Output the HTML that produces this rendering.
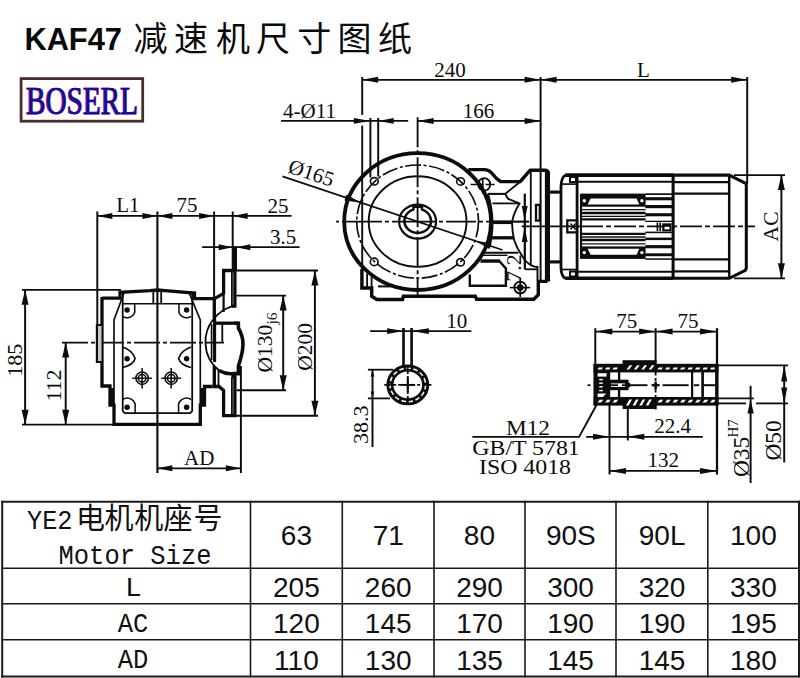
<!DOCTYPE html>
<html><head><meta charset="utf-8"><title>KAF47</title>
<style>
html,body{margin:0;padding:0;background:#fff;}
body{width:800px;height:678px;overflow:hidden;font-family:"Liberation Serif",serif;}
svg{display:block}
text{font-family:"Liberation Serif",serif;fill:#000}
text.d{font-family:"Liberation Serif",serif;fill:#0c0c0c}
text.t{font-family:"Liberation Sans",sans-serif;fill:#111}
text.m{font-family:"Liberation Mono",monospace;fill:#111}
text.c{font-family:"Liberation Sans","Noto Sans CJK SC",sans-serif;fill:#111}
text.h{font-family:"Liberation Sans","Noto Sans CJK SC",sans-serif;fill:#0a0a0a}
</style></head><body>
<svg width="800" height="678" viewBox="0 0 800 678">
<title>KAF47 减速机尺寸图纸</title>
<desc>BOSERL. Dimensions: 240, L, 166, 4-Ø11, Ø165, AC, 7.2, L1, 75, 25, 3.5, 185, 112, AD, Ø130 j6, Ø200, 10, 38.3, 75, 75, M12, GB/T 5781, ISO 4018, 22.4, 132, Ø35 H7, Ø50. Table: YE2电机机座号 Motor Size 63 71 80 90S 90L 100; L 205 260 290 300 320 330; AC 120 145 170 190 190 195; AD 110 130 135 145 145 180.</desc>
<rect width="800" height="678" fill="#fff"/>
<text class="h" x="24.4" y="50" font-size="30.8" font-weight="bold">KAF47</text>
<text class="h" x="133.6 174 216 256 297.3 337.5 378" y="50.5" font-size="34">减速机尺寸图纸</text>
<rect x="21.1" y="78.6" width="121.6" height="42.6" fill="#fff" stroke="#4c2c2d" stroke-width="2.8"/>
<text x="25.6" y="113.5" font-size="39" textLength="112" lengthAdjust="spacingAndGlyphs" style="font-family:'Liberation Serif',serif;fill:#c02060;stroke:#c02060;stroke-width:0.7">BOSERL</text>
<text x="26.2" y="113.5" font-size="39" textLength="112" lengthAdjust="spacingAndGlyphs" style="font-family:'Liberation Serif',serif;fill:#170c9a;stroke:#170c9a;stroke-width:0.75">BOSERL</text>
<line x1="2.2" y1="500.8" x2="2.2" y2="677.6" stroke="#1a1a1a" stroke-width="2.0"/>
<line x1="250.5" y1="500.8" x2="250.5" y2="677.6" stroke="#1a1a1a" stroke-width="1.6"/>
<line x1="342.3" y1="500.8" x2="342.3" y2="677.6" stroke="#1a1a1a" stroke-width="1.6"/>
<line x1="434" y1="500.8" x2="434" y2="677.6" stroke="#1a1a1a" stroke-width="1.6"/>
<line x1="525" y1="500.8" x2="525" y2="677.6" stroke="#1a1a1a" stroke-width="1.6"/>
<line x1="616" y1="500.8" x2="616" y2="677.6" stroke="#1a1a1a" stroke-width="1.6"/>
<line x1="707.8" y1="500.8" x2="707.8" y2="677.6" stroke="#1a1a1a" stroke-width="1.6"/>
<line x1="799" y1="500.8" x2="799" y2="677.6" stroke="#1a1a1a" stroke-width="2.0"/>
<line x1="1.2000000000000002" y1="501.8" x2="800" y2="501.8" stroke="#1a1a1a" stroke-width="2.0"/>
<line x1="1.2000000000000002" y1="568.2" x2="800" y2="568.2" stroke="#1a1a1a" stroke-width="1.6"/>
<line x1="1.2000000000000002" y1="603.8" x2="800" y2="603.8" stroke="#1a1a1a" stroke-width="1.6"/>
<line x1="1.2000000000000002" y1="639.8" x2="800" y2="639.8" stroke="#1a1a1a" stroke-width="1.6"/>
<line x1="1.2000000000000002" y1="676.6" x2="800" y2="676.6" stroke="#1a1a1a" stroke-width="2.0"/>
<text class="t" x="296.4" y="545.2" font-size="28" text-anchor="middle">63</text>
<text class="t" x="388.3" y="545.2" font-size="28" text-anchor="middle">71</text>
<text class="t" x="479.4" y="545.2" font-size="28" text-anchor="middle">80</text>
<text class="t" x="570.8" y="545.2" font-size="28" text-anchor="middle">90S</text>
<text class="t" x="662.1" y="545.2" font-size="28" text-anchor="middle">90L</text>
<text class="t" x="753.4" y="545.2" font-size="28" text-anchor="middle">100</text>
<text class="m" x="133.5" y="595.57" font-size="28" text-anchor="middle">L</text>
<text class="t" x="296.4" y="597" font-size="28" text-anchor="middle">205</text>
<text class="t" x="388.2" y="597" font-size="28" text-anchor="middle">260</text>
<text class="t" x="479.5" y="597" font-size="28" text-anchor="middle">290</text>
<text class="t" x="570.5" y="597" font-size="28" text-anchor="middle">300</text>
<text class="t" x="662" y="597" font-size="28" text-anchor="middle">320</text>
<text class="t" x="753.4" y="597" font-size="28" text-anchor="middle">330</text>
<text class="m" x="117.8" y="631.57" font-size="28" textLength="30.6" lengthAdjust="spacingAndGlyphs">AC</text>
<text class="t" x="296.4" y="633" font-size="28" text-anchor="middle">120</text>
<text class="t" x="388.2" y="633" font-size="28" text-anchor="middle">145</text>
<text class="t" x="479.5" y="633" font-size="28" text-anchor="middle">170</text>
<text class="t" x="570.5" y="633" font-size="28" text-anchor="middle">190</text>
<text class="t" x="662" y="633" font-size="28" text-anchor="middle">190</text>
<text class="t" x="753.4" y="633" font-size="28" text-anchor="middle">195</text>
<text class="m" x="117.8" y="668.07" font-size="28" textLength="30.6" lengthAdjust="spacingAndGlyphs">AD</text>
<text class="t" x="296.4" y="669.5" font-size="28" text-anchor="middle">110</text>
<text class="t" x="388.2" y="669.5" font-size="28" text-anchor="middle">130</text>
<text class="t" x="479.5" y="669.5" font-size="28" text-anchor="middle">135</text>
<text class="t" x="570.5" y="669.5" font-size="28" text-anchor="middle">145</text>
<text class="t" x="662" y="669.5" font-size="28" text-anchor="middle">145</text>
<text class="t" x="753.4" y="669.5" font-size="28" text-anchor="middle">180</text>
<text class="m" x="27" y="528.57" font-size="28" textLength="45.5" lengthAdjust="spacingAndGlyphs">YE2</text>
<text class="c" x="76 104.5 134.3 163.5 193.5" y="529" font-size="29">电机机座号</text>
<text class="m" x="58.5" y="563.87" font-size="28" textLength="153" lengthAdjust="spacingAndGlyphs">Motor Size</text>
<line x1="97.3" y1="211.5" x2="97.3" y2="326" stroke="#0c0c0c" stroke-width="1.96" stroke-linecap="butt"/>
<line x1="157.4" y1="211.5" x2="157.4" y2="473" stroke="#0c0c0c" stroke-width="2.1" stroke-linecap="butt"/>
<line x1="214.1" y1="211.5" x2="214.1" y2="345" stroke="#0c0c0c" stroke-width="1.96" stroke-linecap="butt"/>
<line x1="232.7" y1="211.5" x2="232.7" y2="271" stroke="#0c0c0c" stroke-width="1.96" stroke-linecap="butt"/>
<line x1="97.3" y1="215.9" x2="291.6" y2="215.9" stroke="#0c0c0c" stroke-width="1.78" stroke-linecap="butt"/>
<path d="M97.3 215.9 L112.3 212.9 L112.3 218.9 Z" fill="#0c0c0c"/>
<path d="M157.4 215.9 L142.4 218.9 L142.4 212.9 Z" fill="#0c0c0c"/>
<path d="M157.4 215.9 L172.4 212.9 L172.4 218.9 Z" fill="#0c0c0c"/>
<path d="M214.1 215.9 L199.1 218.9 L199.1 212.9 Z" fill="#0c0c0c"/>
<path d="M232.7 215.9 L247.7 212.9 L247.7 218.9 Z" fill="#0c0c0c"/>
<text class="d" x="116.2" y="212.3" font-size="21">L1</text>
<text class="d" x="176.5" y="212.4" font-size="21">75</text>
<text class="d" x="267.5" y="212.6" font-size="21">25</text>
<line x1="202.1" y1="247.2" x2="299.6" y2="247.2" stroke="#0c0c0c" stroke-width="1.78" stroke-linecap="butt"/>
<line x1="234.6" y1="246.4" x2="234.6" y2="271" stroke="#0c0c0c" stroke-width="4.75" stroke-linecap="butt"/>
<path d="M232.7 247.2 L218.7 250.2 L218.7 244.2 Z" fill="#0c0c0c"/>
<path d="M236.3 247.2 L250.3 244.2 L250.3 250.2 Z" fill="#0c0c0c"/>
<text class="d" x="270" y="243.9" font-size="21">3.5</text>
<line x1="22" y1="289.8" x2="121" y2="289.8" stroke="#0c0c0c" stroke-width="1.78" stroke-linecap="butt"/>
<line x1="22" y1="424.7" x2="115" y2="424.7" stroke="#0c0c0c" stroke-width="1.78" stroke-linecap="butt"/>
<line x1="25.1" y1="289.8" x2="25.1" y2="424.7" stroke="#0c0c0c" stroke-width="1.96" stroke-linecap="butt"/>
<path d="M25.1 289.8 L28.61 304.8 L21.59 304.8 Z" fill="#0c0c0c"/>
<path d="M25.1 424.7 L21.59 409.7 L28.61 409.7 Z" fill="#0c0c0c"/>
<text class="d" x="6" y="360.3" font-size="22" transform="rotate(-90 22.4 360.3)">185</text>
<line x1="65.7" y1="342.6" x2="65.7" y2="424.7" stroke="#0c0c0c" stroke-width="1.96" stroke-linecap="butt"/>
<path d="M65.7 342.6 L69.21 357.6 L62.19 357.6 Z" fill="#0c0c0c"/>
<path d="M65.7 424.7 L62.19 409.7 L69.21 409.7 Z" fill="#0c0c0c"/>
<text class="d" x="44.8" y="385.2" font-size="22" transform="rotate(-90 61.2 385.2)">112</text>
<line x1="240.9" y1="366" x2="240.9" y2="473" stroke="#0c0c0c" stroke-width="1.96" stroke-linecap="butt"/>
<line x1="157.4" y1="468.3" x2="240.9" y2="468.3" stroke="#0c0c0c" stroke-width="1.78" stroke-linecap="butt"/>
<path d="M157.4 468.3 L172.4 465.3 L172.4 471.3 Z" fill="#0c0c0c"/>
<path d="M240.9 468.3 L225.9 471.3 L225.9 465.3 Z" fill="#0c0c0c"/>
<text class="d" x="184" y="465.3" font-size="21">AD</text>
<line x1="236" y1="270.5" x2="318" y2="270.5" stroke="#0c0c0c" stroke-width="1.91" stroke-linecap="butt"/>
<line x1="224" y1="415.7" x2="318" y2="415.7" stroke="#0c0c0c" stroke-width="1.91" stroke-linecap="butt"/>
<line x1="314.9" y1="270.5" x2="314.9" y2="415.7" stroke="#0c0c0c" stroke-width="1.96" stroke-linecap="butt"/>
<path d="M314.9 270.5 L318.41 285.5 L311.39 285.5 Z" fill="#0c0c0c"/>
<path d="M314.9 415.7 L311.39 400.7 L318.41 400.7 Z" fill="#0c0c0c"/>
<text class="d" x="288.5" y="347.3" font-size="21.5" transform="rotate(-90 312 347.3)">Ø200</text>
<line x1="236.4" y1="295.6" x2="286" y2="295.6" stroke="#0c0c0c" stroke-width="1.91" stroke-linecap="butt"/>
<line x1="236.4" y1="390.2" x2="286" y2="390.2" stroke="#0c0c0c" stroke-width="1.91" stroke-linecap="butt"/>
<line x1="283.2" y1="295.6" x2="283.2" y2="390.2" stroke="#0c0c0c" stroke-width="1.96" stroke-linecap="butt"/>
<path d="M283.2 295.6 L286.71 310.6 L279.69 310.6 Z" fill="#0c0c0c"/>
<path d="M283.2 390.2 L279.69 375.2 L286.71 375.2 Z" fill="#0c0c0c"/>
<text class="d" x="248.3" y="349" font-size="21.5" transform="rotate(-90 271.8 349)">Ø130</text>
<text class="d" x="271.7" y="319" font-size="15.5" transform="rotate(-90 277.3 319)">j6</text>
<line x1="62" y1="342.6" x2="224" y2="342.6" stroke="#0c0c0c" stroke-width="1.65" stroke-linecap="butt" stroke-dasharray="26 3 4 3"/>
<path d="M102 298.2 L120 298.2 L120 292.3 L150 290.6 L157.4 290 L165 290.6 L194.5 293 L194.5 298.6 L214.6 298.6" fill="none" stroke="#0c0c0c" stroke-width="3.3" stroke-linejoin="miter" stroke-linecap="butt"/>
<path d="M102 297 L102 386 L110 386 L110 405.2 L114 405.2 L114 424.4 L200.3 424.4 L200.3 405.2 L204.5 405.2 L204.5 386.5 L212.5 386.5" fill="none" stroke="#0c0c0c" stroke-width="3.3" stroke-linejoin="miter" stroke-linecap="butt"/>
<line x1="111.8" y1="388" x2="111.8" y2="404" stroke="#0c0c0c" stroke-width="4.47" stroke-linecap="butt"/>
<line x1="202.6" y1="388" x2="202.6" y2="404" stroke="#0c0c0c" stroke-width="4.47" stroke-linecap="butt"/>
<rect x="97" y="325" width="4.5" height="37" fill="#c8c8c8"/>
<path d="M101.8 325 L96.9 325 L96.9 362 L101.8 362" fill="none" stroke="#0c0c0c" stroke-width="2.16" stroke-linejoin="miter" stroke-linecap="butt"/>
<path d="M124 293 L114 320 L114 406" fill="none" stroke="#0c0c0c" stroke-width="1.65" stroke-linejoin="miter" stroke-linecap="butt"/>
<path d="M189.2 293 L200.3 320 L200.3 406" fill="none" stroke="#0c0c0c" stroke-width="1.65" stroke-linejoin="miter" stroke-linecap="butt"/>
<path d="M122.7 293 L122.7 411 L124.7 413.2 L190.2 413.2 L192.2 411 L192.2 293" fill="none" stroke="#0c0c0c" stroke-width="1.78" stroke-linejoin="miter" stroke-linecap="butt"/>
<line x1="122.7" y1="303.7" x2="192.2" y2="303.7" stroke="#0c0c0c" stroke-width="1.65" stroke-linecap="butt"/>
<line x1="153.3" y1="291" x2="153.3" y2="303.5" stroke="#0c0c0c" stroke-width="1.82" stroke-linecap="butt"/>
<line x1="161.2" y1="291" x2="161.2" y2="303.5" stroke="#0c0c0c" stroke-width="1.82" stroke-linecap="butt"/>
<path d="M122.69999999999999 316.3 A7.6 7 0 0 0 134.7 309.5 L134.7 303.5" fill="none" stroke="#0c0c0c" stroke-width="1.52" stroke-linejoin="miter" stroke-linecap="butt"/>
<circle cx="127.1" cy="310.1" r="2.73" fill="#0c0c0c"/>
<path d="M122.69999999999999 347 Q132.6 350.5 135.1 358.4 Q133.1 365 122.69999999999999 367.5" fill="none" stroke="#0c0c0c" stroke-width="1.65" stroke-linejoin="miter" stroke-linecap="butt"/>
<circle cx="127.1" cy="358.8" r="2.73" fill="#0c0c0c"/>
<path d="M122.69999999999999 399.5 A8 8 0 0 1 135.1 407.5 L135.1 413" fill="none" stroke="#0c0c0c" stroke-width="1.52" stroke-linejoin="miter" stroke-linecap="butt"/>
<circle cx="127.1" cy="407.2" r="2.73" fill="#0c0c0c"/>
<path d="M191.0 316.3 A7.6 7 0 0 1 179.0 309.5 L179.0 303.5" fill="none" stroke="#0c0c0c" stroke-width="1.52" stroke-linejoin="miter" stroke-linecap="butt"/>
<circle cx="186.6" cy="310.1" r="2.73" fill="#0c0c0c"/>
<path d="M191.0 347 Q181.1 350.5 178.6 358.4 Q180.6 365 191.0 367.5" fill="none" stroke="#0c0c0c" stroke-width="1.65" stroke-linejoin="miter" stroke-linecap="butt"/>
<circle cx="186.6" cy="358.8" r="2.73" fill="#0c0c0c"/>
<path d="M191.0 399.5 A8 8 0 0 0 178.6 407.5 L178.6 413" fill="none" stroke="#0c0c0c" stroke-width="1.52" stroke-linejoin="miter" stroke-linecap="butt"/>
<circle cx="186.6" cy="407.2" r="2.73" fill="#0c0c0c"/>
<circle cx="142.1" cy="378.2" r="6.2" fill="none" stroke="#0c0c0c" stroke-width="1.52"/>
<circle cx="142.1" cy="378.2" r="3.8" fill="none" stroke="#0c0c0c" stroke-width="1.52"/>
<line x1="132.1" y1="378.2" x2="152.1" y2="378.2" stroke="#0c0c0c" stroke-width="1.4" stroke-linecap="butt"/>
<line x1="142.1" y1="368" x2="142.1" y2="388.5" stroke="#0c0c0c" stroke-width="1.54" stroke-linecap="butt"/>
<circle cx="171.2" cy="378.2" r="6.2" fill="none" stroke="#0c0c0c" stroke-width="1.52"/>
<circle cx="171.2" cy="378.2" r="3.8" fill="none" stroke="#0c0c0c" stroke-width="1.52"/>
<line x1="161.2" y1="378.2" x2="181.2" y2="378.2" stroke="#0c0c0c" stroke-width="1.4" stroke-linecap="butt"/>
<line x1="171.2" y1="368" x2="171.2" y2="388.5" stroke="#0c0c0c" stroke-width="1.54" stroke-linecap="butt"/>
<path d="M214.6 298.6 L223.6 293.3 L223.6 270.5 L234.9 270.5 L234.9 306.1 L231.9 306.1" fill="none" stroke="#0c0c0c" stroke-width="3.3" stroke-linejoin="miter" stroke-linecap="butt"/>
<line x1="231.9" y1="272" x2="231.9" y2="306" stroke="#0c0c0c" stroke-width="1.82" stroke-linecap="butt"/>
<line x1="223.6" y1="293" x2="223.6" y2="312" stroke="#0c0c0c" stroke-width="2.24" stroke-linecap="butt"/>
<line x1="214.3" y1="298" x2="214.3" y2="318" stroke="#0c0c0c" stroke-width="3.35" stroke-linecap="butt"/>
<path d="M212.5 386.5 L219 386.5 L223.6 390.5 L223.6 415.7 L234.9 415.7 L234.9 376.6 L231.5 376.6" fill="none" stroke="#0c0c0c" stroke-width="3.3" stroke-linejoin="miter" stroke-linecap="butt"/>
<line x1="231.9" y1="377" x2="231.9" y2="414.5" stroke="#0c0c0c" stroke-width="1.82" stroke-linecap="butt"/>
<line x1="218.5" y1="370" x2="218.5" y2="386" stroke="#0c0c0c" stroke-width="1.82" stroke-linecap="butt"/>
<line x1="214.3" y1="366" x2="214.3" y2="386.5" stroke="#0c0c0c" stroke-width="3.35" stroke-linecap="butt"/>
<path d="M234.3 305.6 A39.5 37.5 0 0 0 205.5 343 A39.5 37.5 0 0 0 219 370.5" fill="none" stroke="#0c0c0c" stroke-width="1.78" stroke-linejoin="miter" stroke-linecap="butt"/>
<path d="M219 370.5 Q226 374.5 233 373.6" fill="none" stroke="#0c0c0c" stroke-width="3.3" stroke-linejoin="miter" stroke-linecap="butt"/>
<path d="M214.6 323.2 L238.4 323.2" fill="none" stroke="#0c0c0c" stroke-width="3.3" stroke-linejoin="miter" stroke-linecap="butt"/>
<path d="M234 323.2 L238.4 323.2 L238.4 328 Q243 336 243 343.9 Q243 352 238.4 366 L238.4 373.6 L232.6 373.6" fill="none" stroke="#0c0c0c" stroke-width="3.56" stroke-linejoin="miter" stroke-linecap="butt"/>
<line x1="211.6" y1="324" x2="211.6" y2="360" stroke="#0c0c0c" stroke-width="1.68" stroke-linecap="butt"/>
<line x1="222.3" y1="324" x2="222.3" y2="343" stroke="#0c0c0c" stroke-width="1.82" stroke-linecap="butt"/>
<line x1="214.6" y1="318" x2="214.6" y2="362" stroke="#0c0c0c" stroke-width="3.07" stroke-linecap="butt"/>
<line x1="362.2" y1="77" x2="362.2" y2="114.9" stroke="#0c0c0c" stroke-width="1.96" stroke-linecap="butt"/>
<line x1="362.2" y1="125.6" x2="362.2" y2="270" stroke="#0c0c0c" stroke-width="1.89" stroke-linecap="butt"/>
<line x1="540.6" y1="77" x2="540.6" y2="281" stroke="#0c0c0c" stroke-width="1.96" stroke-linecap="butt"/>
<line x1="747.2" y1="77" x2="747.2" y2="183.5" stroke="#0c0c0c" stroke-width="1.96" stroke-linecap="butt"/>
<line x1="362.2" y1="79.8" x2="747.2" y2="79.8" stroke="#0c0c0c" stroke-width="1.78" stroke-linecap="butt"/>
<path d="M362.2 79.8 L378.2 76.8 L378.2 82.8 Z" fill="#0c0c0c"/>
<path d="M540.6 79.8 L524.6 82.8 L524.6 76.8 Z" fill="#0c0c0c"/>
<path d="M540.6 79.8 L556.6 76.8 L556.6 82.8 Z" fill="#0c0c0c"/>
<path d="M747.2 79.8 L731.2 82.8 L731.2 76.8 Z" fill="#0c0c0c"/>
<text class="d" x="434.3" y="77.3" font-size="21">240</text>
<text class="d" x="637" y="77.3" font-size="21">L</text>
<line x1="417.6" y1="120.9" x2="540.6" y2="120.9" stroke="#0c0c0c" stroke-width="1.78" stroke-linecap="butt"/>
<path d="M417.6 120.9 L433.6 117.9 L433.6 123.9 Z" fill="#0c0c0c"/>
<path d="M540.6 120.9 L524.6 123.9 L524.6 117.9 Z" fill="#0c0c0c"/>
<text class="d" x="462.8" y="117.6" font-size="21">166</text>
<line x1="281" y1="120.9" x2="408.2" y2="120.9" stroke="#0c0c0c" stroke-width="1.78" stroke-linecap="butt"/>
<path d="M370.4 120.9 L353.9 123.8 L353.9 118 Z" fill="#0c0c0c"/>
<path d="M378.2 120.9 L393.7 118 L393.7 123.8 Z" fill="#0c0c0c"/>
<line x1="370.4" y1="118" x2="370.4" y2="177.5" stroke="#0c0c0c" stroke-width="1.96" stroke-linecap="butt"/>
<line x1="378.2" y1="118" x2="378.2" y2="176.5" stroke="#0c0c0c" stroke-width="1.96" stroke-linecap="butt"/>
<text class="d" x="283" y="117.9" font-size="21">4-Ø11</text>
<line x1="734" y1="175.1" x2="785" y2="175.1" stroke="#0c0c0c" stroke-width="1.78" stroke-linecap="butt"/>
<line x1="734" y1="278.3" x2="785" y2="278.3" stroke="#0c0c0c" stroke-width="1.78" stroke-linecap="butt"/>
<line x1="781.4" y1="175.1" x2="781.4" y2="278.3" stroke="#0c0c0c" stroke-width="1.96" stroke-linecap="butt"/>
<path d="M781.4 175.1 L784.91 190.1 L777.89 190.1 Z" fill="#0c0c0c"/>
<path d="M781.4 278.3 L777.89 263.3 L784.91 263.3 Z" fill="#0c0c0c"/>
<text class="d" x="763" y="226.4" font-size="21.5" transform="rotate(-90 778 226.4)">AC</text>
<line x1="417.6" y1="117.3" x2="417.6" y2="296.5" stroke="#0c0c0c" stroke-width="1.82" stroke-linecap="butt" stroke-dasharray="30 3 4 3"/>
<line x1="336" y1="221.6" x2="529" y2="221.6" stroke="#0c0c0c" stroke-width="1.65" stroke-linecap="butt" stroke-dasharray="3 3 40 3 4 3 44 3 4 3 30 3 4 3"/>
<line x1="282.5" y1="176.41" x2="502.5" y2="250" stroke="#0c0c0c" stroke-width="1.78" stroke-linecap="butt"/>
<path d="M360.6 202.53 L344.41 200.49 L346.44 194.42 Z" fill="#0c0c0c"/>
<path d="M475.4 240.93 L491.59 242.97 L489.56 249.04 Z" fill="#0c0c0c"/>
<text class="d" x="285.8" y="179.6" font-size="21" transform="rotate(18.49508832049307 309.3 179.6)">Ø165</text>
<ellipse cx="417.6" cy="221.6" rx="73.4" ry="68.4" fill="none" stroke="#0c0c0c" stroke-width="3.81"/>
<ellipse cx="417.6" cy="221.6" rx="60.9" ry="56.6" fill="none" stroke="#0c0c0c" stroke-width="1.65" stroke-dasharray="16 2.5 3 2.5"/>
<ellipse cx="417.6" cy="221.6" rx="48.9" ry="45.3" fill="none" stroke="#0c0c0c" stroke-width="1.91"/>
<ellipse cx="417.6" cy="221.6" rx="18.5" ry="17" fill="none" stroke="#0c0c0c" stroke-width="2.16"/>
<path d="M413.4 209.6 L413.4 206.8 L422 206.8 L422 209.6 A13.3 12 0 1 1 413.4 209.6 Z" fill="none" stroke="#0c0c0c" stroke-width="2.54" stroke-linejoin="round" stroke-linecap="butt"/>
<ellipse cx="374.3" cy="181.3" rx="3.9" ry="3.7" fill="none" stroke="#0c0c0c" stroke-width="1.65"/>
<ellipse cx="460.6" cy="181.4" rx="3.9" ry="3.7" fill="none" stroke="#0c0c0c" stroke-width="1.65"/>
<ellipse cx="374.2" cy="261.9" rx="3.9" ry="3.7" fill="none" stroke="#0c0c0c" stroke-width="1.65"/>
<ellipse cx="460.5" cy="262.3" rx="3.9" ry="3.7" fill="none" stroke="#0c0c0c" stroke-width="1.65"/>
<path d="M361.9 269 L361.9 288 L371.7 288 L371.7 296.2 L376.8 299.5 L402.6 299.5 L403.4 296.2 L475.3 296.2 L476.6 299.3 L533.8 299.3 L538.3 294.7 L538.3 281.4 L547.5 281.4" fill="none" stroke="#0c0c0c" stroke-width="3.43" stroke-linejoin="miter" stroke-linecap="butt"/>
<line x1="367.1" y1="273.6" x2="367.1" y2="287.5" stroke="#0c0c0c" stroke-width="1.82" stroke-linecap="butt"/>
<line x1="371.6" y1="277" x2="371.6" y2="288" stroke="#0c0c0c" stroke-width="1.82" stroke-linecap="butt"/>
<line x1="378" y1="286.4" x2="390" y2="286.4" stroke="#0c0c0c" stroke-width="2.03" stroke-linecap="butt"/>
<path d="M468.3 169.6 L485 169.6 Q489.5 170 493 174.5 Q496.5 179.5 500.7 181.6 L520.2 181.6 L530 170.3 L545.5 170.3 Q548.3 170.5 548.3 173.5 L548.3 281.4" fill="none" stroke="#0c0c0c" stroke-width="3.43" stroke-linejoin="round" stroke-linecap="butt"/>
<path d="M487.6 193.9 Q495.8 221.6 489 247" fill="none" stroke="#0c0c0c" stroke-width="2.79" stroke-linejoin="miter" stroke-linecap="butt"/>
<ellipse cx="484.2" cy="184.4" rx="6" ry="6.3" fill="none" stroke="#0c0c0c" stroke-width="1.91"/>
<line x1="470.6" y1="184.4" x2="494.7" y2="184.4" stroke="#0c0c0c" stroke-width="1.52" stroke-linecap="butt" stroke-dasharray="7 2 4 2 9"/>
<line x1="482.7" y1="178.5" x2="482.7" y2="193.5" stroke="#0c0c0c" stroke-width="1.68" stroke-linecap="butt"/>
<line x1="487.9" y1="193.9" x2="505.2" y2="193.9" stroke="#0c0c0c" stroke-width="2.03" stroke-linecap="butt"/>
<line x1="505.2" y1="193.9" x2="520.2" y2="181.8" stroke="#0c0c0c" stroke-width="1.91" stroke-linecap="butt"/>
<path d="M505.2 193.9 L508.2 198.9 L519.5 203.4 Q513.5 213 512 222.2 Q512.2 232 514.2 240.2 Q517.5 250.5 526.2 261.6 Q530 265.5 535.3 266.9 L537.5 266.9 L537.5 280" fill="none" stroke="#0c0c0c" stroke-width="1.91" stroke-linejoin="miter" stroke-linecap="butt"/>
<line x1="492.4" y1="203.4" x2="518.8" y2="203.4" stroke="#0c0c0c" stroke-width="1.78" stroke-linecap="butt"/>
<line x1="492" y1="222.3" x2="512" y2="222.3" stroke="#0c0c0c" stroke-width="3.56" stroke-linecap="butt"/>
<line x1="491.5" y1="237.8" x2="513.5" y2="237.8" stroke="#0c0c0c" stroke-width="3.3" stroke-linecap="butt"/>
<line x1="484" y1="252.8" x2="518.4" y2="252.8" stroke="#0c0c0c" stroke-width="1.91" stroke-linecap="butt"/>
<line x1="483" y1="255.3" x2="507.5" y2="255.3" stroke="#0c0c0c" stroke-width="1.4" stroke-linecap="butt"/>
<line x1="481" y1="260.3" x2="500" y2="260.3" stroke="#0c0c0c" stroke-width="1.91" stroke-linecap="butt"/>
<path d="M480.4 261.6 L499.9 261.6 L505.9 268.4 L505.9 285.7 L469.8 285.7 L469.8 274.6" fill="none" stroke="#0c0c0c" stroke-width="2.41" stroke-linejoin="miter" stroke-linecap="butt"/>
<circle cx="520.2" cy="287.6" r="5.9" fill="none" stroke="#0c0c0c" stroke-width="1.91"/>
<circle cx="520.2" cy="287.6" r="3.38" fill="#0c0c0c"/>
<line x1="509.7" y1="287.6" x2="530.2" y2="287.6" stroke="#0c0c0c" stroke-width="1.52" stroke-linecap="butt"/>
<line x1="520.2" y1="278" x2="520.2" y2="297.2" stroke="#0c0c0c" stroke-width="1.68" stroke-linecap="butt"/>
<line x1="524.8" y1="193.6" x2="524.8" y2="269.3" stroke="#0c0c0c" stroke-width="2.24" stroke-linecap="butt"/>
<line x1="524.8" y1="269.3" x2="537" y2="269.3" stroke="#0c0c0c" stroke-width="1.78" stroke-linecap="butt"/>
<path d="M524.7 221 L521.78 206 L527.62 206 Z" fill="#0c0c0c"/>
<path d="M524.7 226.9 L527.62 241.9 L521.78 241.9 Z" fill="#0c0c0c"/>
<line x1="512" y1="221.6" x2="529.2" y2="221.6" stroke="#0c0c0c" stroke-width="1.65" stroke-linecap="butt"/>
<text class="d" x="508.8" y="269.2" font-size="22" transform="rotate(-90 521.3 269.2)">7.2</text>
<line x1="530.8" y1="171" x2="530.8" y2="264.6" stroke="#0c0c0c" stroke-width="1.82" stroke-linecap="butt"/>
<line x1="547.4" y1="172" x2="547.4" y2="280" stroke="#0c0c0c" stroke-width="5.03" stroke-linecap="butt"/>
<path d="M536 204.9 L539.8 204.9 L539.8 220.7 L536 220.7 Z" fill="none" stroke="#0c0c0c" stroke-width="2.29" stroke-linejoin="miter" stroke-linecap="butt"/>
<line x1="521.7" y1="226.3" x2="581" y2="226.3" stroke="#0c0c0c" stroke-width="1.65" stroke-linecap="butt"/>
<line x1="581" y1="226.3" x2="755" y2="226.3" stroke="#0c0c0c" stroke-width="1.78" stroke-linecap="butt" stroke-dasharray="22 3 5 3"/>
<path d="M549 192.1 L561 192.1" fill="none" stroke="#0c0c0c" stroke-width="3.17" stroke-linejoin="miter" stroke-linecap="butt"/>
<path d="M549 261.9 L561 261.9" fill="none" stroke="#0c0c0c" stroke-width="3.17" stroke-linejoin="miter" stroke-linecap="butt"/>
<path d="M566 175.1 Q561.5 176 561 186.1 L561 268.3 Q561.5 277.5 566 278.3" fill="none" stroke="#0c0c0c" stroke-width="2.79" stroke-linejoin="miter" stroke-linecap="butt"/>
<line x1="577.1" y1="174" x2="577.1" y2="279.4" stroke="#0c0c0c" stroke-width="2.79" stroke-linecap="butt"/>
<line x1="561.5" y1="184.1" x2="577" y2="184.1" stroke="#0c0c0c" stroke-width="1.65" stroke-linecap="butt"/>
<line x1="561.5" y1="269.5" x2="577" y2="269.5" stroke="#0c0c0c" stroke-width="1.65" stroke-linecap="butt"/>
<path d="M570 177 L576 177 L576 182 L570 182 Z" fill="none" stroke="#0c0c0c" stroke-width="2.03" stroke-linejoin="miter" stroke-linecap="butt"/>
<path d="M570 271.6 L576 271.6 L576 276.6 L570 276.6 Z" fill="none" stroke="#0c0c0c" stroke-width="2.03" stroke-linejoin="miter" stroke-linecap="butt"/>
<path d="M567.3 220.3 L577 220.3 L577 232.3 L567.3 232.3 Z" fill="none" stroke="#0c0c0c" stroke-width="2.29" stroke-linejoin="miter" stroke-linecap="butt"/>
<path d="M570.5 223.5 L575.5 229.5 M575.5 223.5 L570.5 229.5" fill="none" stroke="#0c0c0c" stroke-width="1.52" stroke-linejoin="miter" stroke-linecap="butt"/>
<line x1="565.5" y1="175.1" x2="673" y2="175.1" stroke="#0c0c0c" stroke-width="3.56" stroke-linecap="butt"/>
<line x1="565.5" y1="278.3" x2="673" y2="278.3" stroke="#0c0c0c" stroke-width="3.56" stroke-linecap="butt"/>
<line x1="577" y1="181.7" x2="673" y2="181.7" stroke="#0c0c0c" stroke-width="1.91" stroke-linecap="butt"/>
<line x1="577" y1="271.7" x2="673" y2="271.7" stroke="#0c0c0c" stroke-width="1.91" stroke-linecap="butt"/>
<line x1="581" y1="194" x2="581" y2="258.5" stroke="#0c0c0c" stroke-width="2.1" stroke-linecap="butt"/>
<rect x="580.4" y="193.6" width="65.2" height="13.1" fill="#0c0c0c"/>
<path d="M590.6 198.5 L636.6 198.5 L639.2 204.4 L587.6 204.4 Z" fill="#fff"/>
<rect x="580.4" y="246.4" width="65.2" height="12.5" fill="#0c0c0c"/>
<path d="M587.6 248.8 L639.2 248.8 L636.6 254.7 L590.6 254.7 Z" fill="#fff"/>
<circle cx="584.3" cy="200.7" r="1.7" fill="#fff"/>
<circle cx="641.9" cy="200.7" r="1.7" fill="#fff"/>
<circle cx="584.3" cy="252.6" r="1.7" fill="#fff"/>
<circle cx="641.9" cy="252.6" r="1.7" fill="#fff"/>
<line x1="581.4" y1="209.6" x2="645.6" y2="209.6" stroke="#0c0c0c" stroke-width="1.27" stroke-linecap="butt"/>
<line x1="581.4" y1="213.1" x2="645.6" y2="213.1" stroke="#0c0c0c" stroke-width="2.54" stroke-linecap="butt"/>
<line x1="581.4" y1="216.4" x2="645.6" y2="216.4" stroke="#0c0c0c" stroke-width="1.27" stroke-linecap="butt"/>
<line x1="581.4" y1="219.4" x2="645.6" y2="219.4" stroke="#0c0c0c" stroke-width="2.16" stroke-linecap="butt"/>
<line x1="581.4" y1="233.8" x2="645.6" y2="233.8" stroke="#0c0c0c" stroke-width="2.16" stroke-linecap="butt"/>
<line x1="581.4" y1="237" x2="645.6" y2="237" stroke="#0c0c0c" stroke-width="1.27" stroke-linecap="butt"/>
<line x1="581.4" y1="240.1" x2="645.6" y2="240.1" stroke="#0c0c0c" stroke-width="2.54" stroke-linecap="butt"/>
<line x1="581.4" y1="243.8" x2="645.6" y2="243.8" stroke="#0c0c0c" stroke-width="1.27" stroke-linecap="butt"/>
<rect x="645.3" y="193.3" width="27.3" height="1.7" fill="#0c0c0c"/>
<rect x="645.3" y="197.2" width="27.3" height="3.1" fill="#0c0c0c"/>
<rect x="645.3" y="205.0" width="27.3" height="3.2" fill="#0c0c0c"/>
<rect x="645.3" y="213.2" width="27.3" height="3.1" fill="#0c0c0c"/>
<rect x="645.3" y="220.7" width="27.3" height="1.3" fill="#0c0c0c"/>
<rect x="645.3" y="231.6" width="27.3" height="1.6" fill="#0c0c0c"/>
<rect x="645.3" y="237.6" width="27.3" height="2.5" fill="#0c0c0c"/>
<rect x="645.3" y="245.1" width="27.3" height="3.2" fill="#0c0c0c"/>
<rect x="645.3" y="253.3" width="27.3" height="2.9" fill="#0c0c0c"/>
<rect x="645.3" y="258.3" width="27.3" height="1.5" fill="#0c0c0c"/>
<rect x="662.2" y="223.3" width="9.2" height="8.0" fill="#0c0c0c"/>
<rect x="664.5" y="226.8" width="5" height="2.6" fill="#fff"/>
<line x1="657.4" y1="222.5" x2="657.4" y2="231" stroke="#0c0c0c" stroke-width="1.68" stroke-linecap="butt"/>
<line x1="660.2" y1="222.5" x2="660.2" y2="231" stroke="#0c0c0c" stroke-width="1.68" stroke-linecap="butt"/>
<path d="M673.1 175.1 L729.2 175.1 L745.3 183.1 L746.3 183.1 L746.3 268.3 L745.3 270.3 L729.2 278.3 L673.1 278.3 Z" fill="none" stroke="#0c0c0c" stroke-width="3.05" stroke-linejoin="miter" stroke-linecap="butt"/>
<line x1="729.2" y1="175.1" x2="729.2" y2="278.3" stroke="#0c0c0c" stroke-width="2.51" stroke-linecap="butt"/>
<line x1="673.1" y1="182.1" x2="729.2" y2="182.1" stroke="#0c0c0c" stroke-width="2.29" stroke-linecap="butt"/>
<line x1="673.1" y1="193.7" x2="729.2" y2="193.7" stroke="#0c0c0c" stroke-width="2.29" stroke-linecap="butt"/>
<line x1="673.1" y1="259.3" x2="729.2" y2="259.3" stroke="#0c0c0c" stroke-width="2.29" stroke-linecap="butt"/>
<line x1="673.1" y1="271.3" x2="729.2" y2="271.3" stroke="#0c0c0c" stroke-width="2.29" stroke-linecap="butt"/>
<line x1="370.1" y1="331.1" x2="471.3" y2="331.1" stroke="#0c0c0c" stroke-width="1.78" stroke-linecap="butt"/>
<path d="M403.6 331.1 L387.1 334 L387.1 328.2 Z" fill="#0c0c0c"/>
<path d="M411.4 331.1 L428.9 328.2 L428.9 334 Z" fill="#0c0c0c"/>
<line x1="403.5" y1="328" x2="403.5" y2="368" stroke="#0c0c0c" stroke-width="2.65" stroke-linecap="butt"/>
<line x1="411.6" y1="328" x2="411.6" y2="368" stroke="#0c0c0c" stroke-width="2.65" stroke-linecap="butt"/>
<text class="d" x="446.3" y="328.4" font-size="21">10</text>
<ellipse cx="407.8" cy="384.9" rx="17.85" ry="16.85" fill="none" stroke="#0c0c0c" stroke-width="7.1"/>
<ellipse cx="407.8" cy="384.9" rx="17.75" ry="16.75" fill="none" stroke="#fff" stroke-width="1.5" stroke-dasharray="4.6 2.6"/>
<line x1="384.2" y1="384.9" x2="431.4" y2="384.9" stroke="#0c0c0c" stroke-width="1.65" stroke-linecap="butt" stroke-dasharray="12 2 3 2"/>
<line x1="407.8" y1="366" x2="407.8" y2="403" stroke="#0c0c0c" stroke-width="1.82" stroke-linecap="butt" stroke-dasharray="8 2 3 2"/>
<line x1="400.6" y1="384.9" x2="415" y2="384.9" stroke="#0c0c0c" stroke-width="1.91" stroke-linecap="butt"/>
<line x1="407.8" y1="378" x2="407.8" y2="392" stroke="#0c0c0c" stroke-width="2.1" stroke-linecap="butt"/>
<line x1="367.9" y1="369.7" x2="393.5" y2="369.7" stroke="#0c0c0c" stroke-width="1.78" stroke-linecap="butt"/>
<line x1="367.9" y1="398.4" x2="390" y2="398.4" stroke="#0c0c0c" stroke-width="1.78" stroke-linecap="butt"/>
<line x1="372.5" y1="369.7" x2="372.5" y2="447" stroke="#0c0c0c" stroke-width="1.96" stroke-linecap="butt"/>
<path d="M372.5 370.2 L374.37 376.7 L370.63 376.7 Z" fill="#0c0c0c"/>
<path d="M372.5 397.9 L370.63 391.4 L374.37 391.4 Z" fill="#0c0c0c"/>
<text class="d" x="349.3" y="425.8" font-size="22" transform="rotate(-90 367.6 425.8)">38.3</text>
<line x1="595.3" y1="328.2" x2="595.3" y2="365.4" stroke="#0c0c0c" stroke-width="1.96" stroke-linecap="butt"/>
<line x1="655.6" y1="328.2" x2="655.6" y2="362" stroke="#0c0c0c" stroke-width="1.96" stroke-linecap="butt"/>
<line x1="717" y1="328.2" x2="717" y2="474.5" stroke="#0c0c0c" stroke-width="2.24" stroke-linecap="butt"/>
<line x1="595.3" y1="331.6" x2="717" y2="331.6" stroke="#0c0c0c" stroke-width="1.78" stroke-linecap="butt"/>
<path d="M595.3 331.6 L612.3 328.6 L612.3 334.6 Z" fill="#0c0c0c"/>
<path d="M655.6 331.6 L639.1 334.6 L639.1 328.6 Z" fill="#0c0c0c"/>
<path d="M655.6 331.6 L672.6 328.6 L672.6 334.6 Z" fill="#0c0c0c"/>
<path d="M717 331.6 L700 334.6 L700 328.6 Z" fill="#0c0c0c"/>
<text class="d" x="616.2" y="328.2" font-size="21">75</text>
<text class="d" x="677.4" y="328.2" font-size="21">75</text>
<path d="M472.4 436.9 L579.1 436.9 L596.5 405" fill="none" stroke="#0c0c0c" stroke-width="1.91" stroke-linejoin="miter" stroke-linecap="butt"/>
<text class="d" x="506" y="435.2" font-size="21.5" textLength="44" lengthAdjust="spacingAndGlyphs">M12</text>
<text class="d" x="472.3" y="455.3" font-size="21.5" textLength="107.5" lengthAdjust="spacingAndGlyphs">GB/T 5781</text>
<text class="d" x="479" y="474.2" font-size="21.5" textLength="92" lengthAdjust="spacingAndGlyphs">ISO 4018</text>
<line x1="586.1" y1="436.8" x2="702.8" y2="436.8" stroke="#0c0c0c" stroke-width="1.78" stroke-linecap="butt"/>
<path d="M609.5 436.8 L593 439.8 L593 433.8 Z" fill="#0c0c0c"/>
<path d="M627.8 436.8 L644.3 433.8 L644.3 439.8 Z" fill="#0c0c0c"/>
<line x1="609.5" y1="404.1" x2="609.5" y2="474.5" stroke="#0c0c0c" stroke-width="1.96" stroke-linecap="butt"/>
<line x1="627.8" y1="407" x2="627.8" y2="440.5" stroke="#0c0c0c" stroke-width="1.96" stroke-linecap="butt"/>
<text class="d" x="654.2" y="433.2" font-size="21">22.4</text>
<line x1="609.5" y1="470.9" x2="717" y2="470.9" stroke="#0c0c0c" stroke-width="1.78" stroke-linecap="butt"/>
<path d="M609.5 470.9 L626 467.9 L626 473.9 Z" fill="#0c0c0c"/>
<path d="M717 470.9 L700 473.9 L700 467.9 Z" fill="#0c0c0c"/>
<text class="d" x="647.5" y="467.3" font-size="21">132</text>
<line x1="718" y1="365.4" x2="788" y2="365.4" stroke="#0c0c0c" stroke-width="1.78" stroke-linecap="butt"/>
<line x1="756" y1="403.4" x2="788" y2="403.4" stroke="#0c0c0c" stroke-width="1.78" stroke-linecap="butt"/>
<line x1="784.2" y1="365.4" x2="784.2" y2="462.4" stroke="#0c0c0c" stroke-width="1.96" stroke-linecap="butt"/>
<path d="M784.2 365.4 L787.24 381.4 L781.16 381.4 Z" fill="#0c0c0c"/>
<path d="M784.2 403.4 L781.16 387.4 L787.24 387.4 Z" fill="#0c0c0c"/>
<text class="d" x="761.4" y="441" font-size="23.5" transform="rotate(-90 781 441)">Ø50</text>
<line x1="717.6" y1="398.4" x2="753.8" y2="398.4" stroke="#0c0c0c" stroke-width="1.78" stroke-linecap="butt"/>
<line x1="717.6" y1="403.4" x2="746" y2="403.4" stroke="#0c0c0c" stroke-width="1.78" stroke-linecap="butt"/>
<line x1="750.6" y1="385.8" x2="750.6" y2="483" stroke="#0c0c0c" stroke-width="1.96" stroke-linecap="butt"/>
<path d="M750.6 399.5 L753.76 413.5 L747.44 413.5 Z" fill="#0c0c0c"/>
<text class="d" x="729" y="457.5" font-size="23.5" transform="rotate(-90 748.6 457.5)">Ø35</text>
<text class="d" x="729" y="429" font-size="15" transform="rotate(-90 737.6 429)">H7</text>
<rect x="593.6" y="363.8" width="124.8" height="8.6" fill="#0c0c0c"/>
<rect x="593.6" y="397" width="124.8" height="8.6" fill="#0c0c0c"/>
<rect x="622.6" y="360.2" width="33.8" height="4.3" fill="#0c0c0c"/>
<rect x="622.6" y="405" width="33.8" height="4" fill="#0c0c0c"/>
<path d="M597.5 369.5 L598.7 367.6 L602.9 367.6 L601.7 369.5 Z" fill="#fff"/>
<path d="M605 369.5 L606.2 367.6 L610.4 367.6 L609.2 369.5 Z" fill="#fff"/>
<path d="M612.5 369.5 L613.7 367.6 L617.9 367.6 L616.7 369.5 Z" fill="#fff"/>
<path d="M657.5 369.5 L658.7 367.6 L662.9 367.6 L661.7 369.5 Z" fill="#fff"/>
<path d="M665 369.5 L666.2 367.6 L670.4 367.6 L669.2 369.5 Z" fill="#fff"/>
<path d="M672.5 369.5 L673.7 367.6 L677.9 367.6 L676.7 369.5 Z" fill="#fff"/>
<path d="M680 369.5 L681.2 367.6 L685.4 367.6 L684.2 369.5 Z" fill="#fff"/>
<path d="M687.5 369.5 L688.7 367.6 L692.9 367.6 L691.7 369.5 Z" fill="#fff"/>
<path d="M695 369.5 L696.2 367.6 L700.4 367.6 L699.2 369.5 Z" fill="#fff"/>
<path d="M702.5 369.5 L703.7 367.6 L707.9 367.6 L706.7 369.5 Z" fill="#fff"/>
<path d="M710 369.5 L711.2 367.6 L715.4 367.6 L714.2 369.5 Z" fill="#fff"/>
<path d="M597.5 402.6 L599.7 399.7 L603.3 399.7 L601.1 402.6 Z" fill="#fff"/>
<path d="M605 402.6 L607.2 399.7 L610.8 399.7 L608.6 402.6 Z" fill="#fff"/>
<path d="M612.5 402.6 L614.7 399.7 L618.3 399.7 L616.1 402.6 Z" fill="#fff"/>
<path d="M657.5 402.6 L659.7 399.7 L663.3 399.7 L661.1 402.6 Z" fill="#fff"/>
<path d="M665 402.6 L667.2 399.7 L670.8 399.7 L668.6 402.6 Z" fill="#fff"/>
<path d="M672.5 402.6 L674.7 399.7 L678.3 399.7 L676.1 402.6 Z" fill="#fff"/>
<path d="M680 402.6 L682.2 399.7 L685.8 399.7 L683.6 402.6 Z" fill="#fff"/>
<path d="M687.5 402.6 L689.7 399.7 L693.3 399.7 L691.1 402.6 Z" fill="#fff"/>
<path d="M695 402.6 L697.2 399.7 L700.8 399.7 L698.6 402.6 Z" fill="#fff"/>
<path d="M702.5 402.6 L704.7 399.7 L708.3 399.7 L706.1 402.6 Z" fill="#fff"/>
<path d="M710 402.6 L712.2 399.7 L715.8 399.7 L713.6 402.6 Z" fill="#fff"/>
<path d="M626.5 369.6 L629.7 365.2 L632.3 365.2 L629.1 369.6 Z" fill="#fff"/>
<path d="M633.9 369.6 L637.1 365.2 L639.7 365.2 L636.5 369.6 Z" fill="#fff"/>
<path d="M641.3 369.6 L644.5 365.2 L647.1 365.2 L643.9 369.6 Z" fill="#fff"/>
<path d="M648.7 369.6 L651.9 365.2 L654.5 365.2 L651.3 369.6 Z" fill="#fff"/>
<path d="M626 405.4 L629.4 399.4 L632 399.4 L628.6 405.4 Z" fill="#fff"/>
<path d="M632.6 405.4 L636 399.4 L638.6 399.4 L635.2 405.4 Z" fill="#fff"/>
<path d="M639.2 405.4 L642.6 399.4 L645.2 399.4 L641.8 405.4 Z" fill="#fff"/>
<path d="M645.8 405.4 L649.2 399.4 L651.8 399.4 L648.4 405.4 Z" fill="#fff"/>
<line x1="595" y1="364" x2="595" y2="405.5" stroke="#0c0c0c" stroke-width="3.07" stroke-linecap="butt"/>
<line x1="716.8" y1="364" x2="716.8" y2="405.5" stroke="#0c0c0c" stroke-width="3.35" stroke-linecap="butt"/>
<line x1="692.1" y1="372" x2="692.1" y2="397.5" stroke="#0c0c0c" stroke-width="2.24" stroke-linecap="butt"/>
<line x1="702.6" y1="372" x2="702.6" y2="397.5" stroke="#0c0c0c" stroke-width="2.65" stroke-linecap="butt"/>
<line x1="703.6" y1="385.2" x2="716" y2="385.2" stroke="#0c0c0c" stroke-width="2.03" stroke-linecap="butt"/>
<line x1="587.5" y1="385.2" x2="590.5" y2="385.2" stroke="#0c0c0c" stroke-width="1.78" stroke-linecap="butt"/>
<line x1="629" y1="385.2" x2="647.5" y2="385.2" stroke="#0c0c0c" stroke-width="1.91" stroke-linecap="butt"/>
<line x1="662.5" y1="385.2" x2="688.6" y2="385.2" stroke="#0c0c0c" stroke-width="1.91" stroke-linecap="butt"/>
<line x1="693.8" y1="385.2" x2="699.2" y2="385.2" stroke="#0c0c0c" stroke-width="1.91" stroke-linecap="butt"/>
<line x1="655.6" y1="361" x2="655.6" y2="412" stroke="#0c0c0c" stroke-width="1.82" stroke-linecap="butt" stroke-dasharray="3 2.5 9 2.5"/>
<line x1="651.6" y1="385.2" x2="659.6" y2="385.2" stroke="#0c0c0c" stroke-width="2.29" stroke-linecap="butt"/>
<line x1="655.6" y1="381.6" x2="655.6" y2="388.8" stroke="#0c0c0c" stroke-width="2.51" stroke-linecap="butt"/>
<rect x="594" y="372" width="16.2" height="25.5" fill="#0c0c0c"/>
<path d="M597.6 373.2 L606.6 373.2 L606.6 376.6 L597.6 376.6 Z" fill="#fff"/>
<path d="M599.2 378.9 L602.8 378.9 L602.8 380.3 L599.2 380.3 Z" fill="#fff"/>
<path d="M599.2 382.5 L602.8 382.5 L602.8 383.9 L599.2 383.9 Z" fill="#fff"/>
<path d="M599.2 386.1 L602.8 386.1 L602.8 387.5 L599.2 387.5 Z" fill="#fff"/>
<path d="M599.2 389.9 L602.8 389.9 L602.8 391.3 L599.2 391.3 Z" fill="#fff"/>
<path d="M597.6 393.6 L606.2 393.6 L603 397 L597.6 397 Z" fill="#fff"/>
<rect x="610" y="379.7" width="18.6" height="10.5" fill="#0c0c0c"/>
<circle cx="628" cy="385" r="2.6" fill="#0c0c0c"/>
<path d="M611 383.4 L625 383.4 L625 384.3 L611 384.3 Z" fill="#fff"/>
<path d="M611 386 L625 386 L625 386.9 L611 386.9 Z" fill="#fff"/>
<path d="M618 383.8 L622 383.8 L622 386.5 L618 386.5 Z" fill="#fff"/>
<line x1="619.1" y1="372" x2="619.1" y2="380" stroke="#0c0c0c" stroke-width="2.37" stroke-linecap="butt"/>
<line x1="619.1" y1="390" x2="619.1" y2="397.5" stroke="#0c0c0c" stroke-width="2.37" stroke-linecap="butt"/>
</svg>
</body></html>
